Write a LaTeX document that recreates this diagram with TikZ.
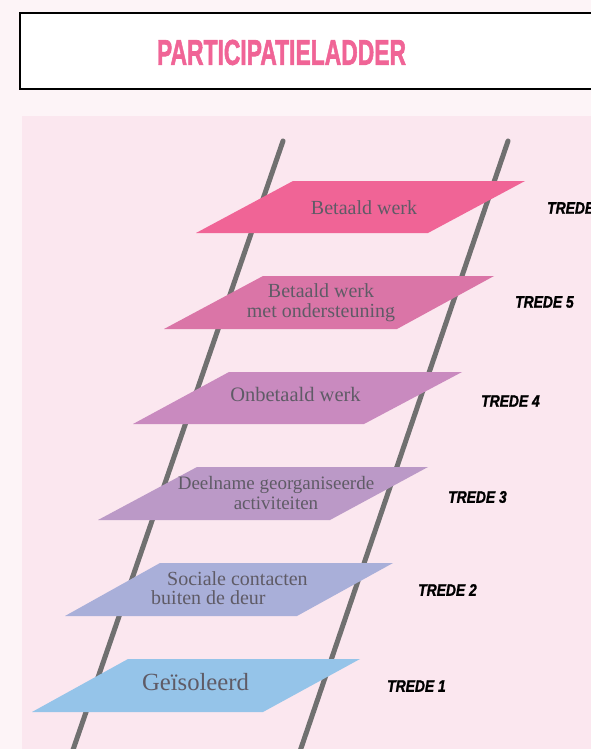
\documentclass[tikz,border=0pt]{standalone}
\usepackage{fontspec}
\setmainfont{Liberation Serif}
\newfontfamily\labelfont[FakeBold=2]{Liberation Sans}
\newfontfamily\tredefont[FakeBold=1.6]{Liberation Sans}
\usepackage{graphicx}
\definecolor{outerbg}{HTML}{FDF4F7}
\definecolor{panelbg}{HTML}{FBE7EF}
\definecolor{railgray}{HTML}{707070}
\definecolor{titlepink}{HTML}{F06496}
\definecolor{txtgray}{HTML}{5F5B66}
\definecolor{cSix}{HTML}{F06496}
\definecolor{cFive}{HTML}{DA75A7}
\definecolor{cFour}{HTML}{C98ABF}
\definecolor{cThree}{HTML}{BB99C7}
\definecolor{cTwo}{HTML}{A9AFD9}
\definecolor{cOne}{HTML}{95C4E9}
\newcommand\tredelabel[1]{\scalebox{0.83}[1]{\fontsize{16.7}{18}\tredefont\bfseries\itshape #1}}
\tikzset{
  rail/.style={draw=railgray, line width=5pt, line cap=round},
  stepshape/.style={fill=#1, draw=none},
  steptext/.style={text=txtgray, inner sep=0pt, font=\fontsize{20}{20}\selectfont},
  tredetext/.style={text=black, inner sep=0pt, anchor=west},
}
\begin{document}
\begin{tikzpicture}[x=1pt,y=-1pt]
\useasboundingbox (0,0) rectangle (591,749);
\clip (0,0) rectangle (591,749);
\fill[outerbg] (0,0) rectangle (591,749);
% title box
\draw[line width=2pt, fill=white] (20,13) rectangle (620,89);
\node[inner sep=0pt, text=titlepink] (title) at (281.5,52.5)
  {\resizebox{249pt}{25pt}{\labelfont\bfseries PARTICIPATIELADDER}};
% panel
\fill[panelbg] (22,116) rectangle (600,760);
% rails
\coordinate (lt) at (283,141);
\coordinate (lb) at (69.5,760);
\coordinate (rt) at (508,141);
\coordinate (rb) at (297,760);
\draw[rail] (lt) -- (lb);
\draw[rail] (rt) -- (rb);
% steps
\fill[stepshape=cSix]   (293,181) -- (525,181) -- (428,233) -- (196,233) -- cycle;
\fill[stepshape=cFive]  (263,276) -- (494,276) -- (397,329) -- (164,329) -- cycle;
\fill[stepshape=cFour]  (229,372) -- (462,372) -- (364,424) -- (133,424) -- cycle;
\fill[stepshape=cThree] (197,467) -- (428,467) -- (330,520) -- (98,520) -- cycle;
\fill[stepshape=cTwo]   (160,563) -- (393,563) -- (297,616) -- (65,616) -- cycle;
\fill[stepshape=cOne]   (128,659) -- (360,659) -- (263,712) -- (32,712) -- cycle;
% step texts
\node[steptext, anchor=base] (s6) at (364,214) {Betaald werk};
\node[steptext, align=center] (s5) at (321,302.6) {Betaald werk\\met ondersteuning};
\node[steptext, anchor=base, font=\fontsize{20.5}{20}\selectfont] (s4) at (295.5,401) {Onbetaald werk};
\node[steptext, align=center, font=\fontsize{19}{20}\selectfont] (s3) at (276,492.8) {Deelname georganiseerde\\activiteiten};
\node[steptext, align=left, anchor=west, font=\fontsize{20}{19}\selectfont] (s2) at (151,588.2) {\hspace*{16pt}Sociale contacten\\buiten de deur};
\node[steptext, anchor=base, font=\fontsize{24.7}{26}\selectfont] (s1) at (195.5,690) {Geïsoleerd};
% trede labels
\node[tredetext] (r6) at (547,208) {\tredelabel{TREDE}};
\node[tredetext] (r5) at (515,302) {\tredelabel{TREDE 5}};
\node[tredetext] (r4) at (481,401) {\tredelabel{TREDE 4}};
\node[tredetext] (r3) at (448,497) {\tredelabel{TREDE 3}};
\node[tredetext] (r2) at (418,590) {\tredelabel{TREDE 2}};
\node[tredetext] (r1) at (387,686) {\tredelabel{TREDE 1}};
\end{tikzpicture}
\end{document}
